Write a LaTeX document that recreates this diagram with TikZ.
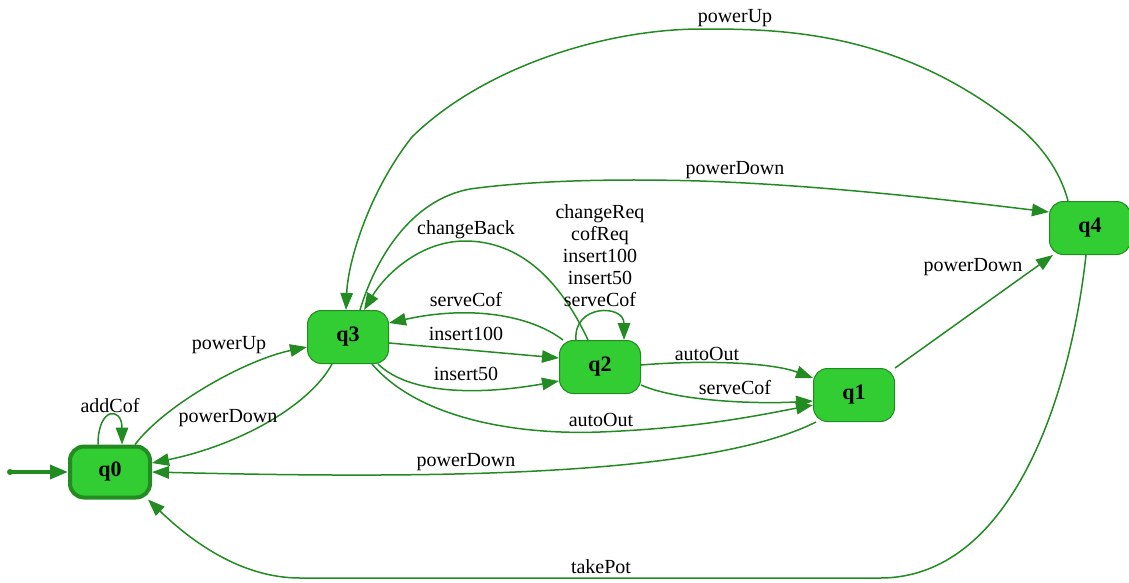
\documentclass[tikz,border=0pt]{standalone}
\usepackage{fontspec}
\setmainfont{Liberation Serif}
\usetikzlibrary{arrows.meta}
\definecolor{lg}{HTML}{32CD32}
\definecolor{fg}{HTML}{228B22}
\begin{document}
\begin{tikzpicture}[x=1pt,y=-1pt,
  st/.style={draw=fg, fill=lg, rounded corners=14pt, minimum width=81pt, minimum height=53pt, font=\bfseries\fontsize{22}{26}\selectfont, line width=1pt, inner sep=0pt},
  e/.style={draw=fg, line width=1.5pt, -{Triangle[length=17pt,width=12.5pt]}},
  lb/.style={font=\fontsize{20}{22}\selectfont, inner sep=0pt, align=center}]
\useasboundingbox (0,0) rectangle (1129,582);
% states
\node[st, line width=4pt, minimum width=80pt, minimum height=51pt] (q0) at (110,472) {q0};
\node[st] (q3) at (348,337) {q3};
\node[st] (q2) at (600,367) {q2};
\node[st] (q1) at (854,395) {q1};
\node[st] (q4) at (1090,228) {q4};
% initial
\coordinate (init) at (10,472);
\fill[fg] (init) circle (3);
\draw[draw=fg, line width=3.5pt, -{Triangle[length=18pt,width=14pt]}] (init) -- (q0.west);
% q0 loop
\draw[e] ([xshift=-12pt]q0.north) .. controls +(0,-38) and +(0,-38) .. ([xshift=12pt]q0.north);
\node[lb] (l1) at (110,406) {addCof};
% q0 -> q3 powerUp
\draw[e] ([xshift=25pt]q0.north) .. controls (165,405) and (245,360) .. ([yshift=-10pt]q3.west);
\node[lb] (l2) at (229,345) {powerUp};
% q3 -> q0 powerDown
\draw[e] ([xshift=-16pt]q3.south) .. controls (310,405) and (240,445) .. ([yshift=9pt]q0.east);
\node[lb] (l3) at (228,418) {powerDown};
% q1 -> q0 powerDown
\draw[e] ([xshift=-38pt]q1.south) .. controls (700,480) and (400,478) .. (q0.east);
\node[lb] (l4) at (466,462) {powerDown};
% q4 -> q0 takePot
\draw[e] ([xshift=-4pt]q4.south) .. controls (1070,400) and (1010,578) .. (880,578) -- (300,578) .. controls (240,578) and (190,540) .. ([xshift=38pt]q0.south);
\node[lb] (l5) at (601,567) {takePot};
% q4 -> q3 powerUp
\draw[e] ([xshift=-22pt]q4.north) .. controls (1060,170) and (1040,145) .. (1020,128) .. controls (900,30) and (780,29) .. (702,29) .. controls (600,29) and (480,70) .. (412,137) .. controls (370,190) and (348,260) .. ([xshift=-2pt]q3.north);
\node[lb] (l6) at (735,18) {powerUp};
% q3 -> q4 powerDown
\draw[e] ([xshift=12pt]q3.north) .. controls (375,260) and (410,200) .. (470,189) .. controls (520,182) and (600,178) .. (700,181) .. controls (820,185) and (950,200) .. ([yshift=16pt]q4.west);
\node[lb] (l7) at (735,170) {powerDown};
% q2 -> q3 changeBack
\draw[e] ([xshift=-12pt]q2.north) .. controls (560,280) and (520,241) .. (465,241) .. controls (420,241) and (385,275) .. ([xshift=16pt]q3.north);
\node[lb] (l8) at (466,230) {changeBack};
% q2 loop
\draw[e] ([xshift=-24pt]q2.north) .. controls +(-3,-36) and +(0,-36) .. ([xshift=24pt]q2.north);
\node[lb] (l9) at (600,256) {changeReq\\cofReq\\insert100\\insert50\\serveCof};
% q2 -> q3 serveCof
\draw[e] ([xshift=-37pt]q2.north) .. controls (530,315) and (470,305) .. ([yshift=14pt]q3.east);
\node[lb] (l10) at (466,300) {serveCof};
% q3 -> q2 insert100
\draw[e] ([yshift=-6pt]q3.east) -- ([yshift=9pt]q2.west);
\node[lb] (l11) at (466,334) {insert100};
% q3 -> q2 insert50
\draw[e] ([xshift=30pt]q3.south) .. controls (410,395) and (480,395) .. ([yshift=-14pt]q2.west);
\node[lb] (l12) at (466,374) {insert50};
% q3 -> q1 autoOut
\draw[e] ([xshift=24pt]q3.south) .. controls (420,420) and (520,435) .. (600,432) .. controls (700,428) and (760,415) .. ([yshift=-10pt]q1.west);
\node[lb] (l13) at (601,420) {autoOut};
% q2 -> q1 autoOut
\draw[e] ([yshift=2pt]q2.east) .. controls (700,360) and (770,362) .. ([yshift=17pt]q1.west);
\node[lb] (l14) at (707,354) {autoOut};
% q2 -> q1 serveCof
\draw[e] ([yshift=-18pt]q2.east) .. controls (680,402) and (760,404) .. ([yshift=-6pt]q1.west);
\node[lb] (l15) at (735,388) {serveCof};
% q1 -> q4 powerDown
\draw[e] (q1.north east) -- ([xshift=-37pt]q4.south);
\node[lb] (l16) at (973,267) {powerDown};
\end{tikzpicture}
\end{document}
